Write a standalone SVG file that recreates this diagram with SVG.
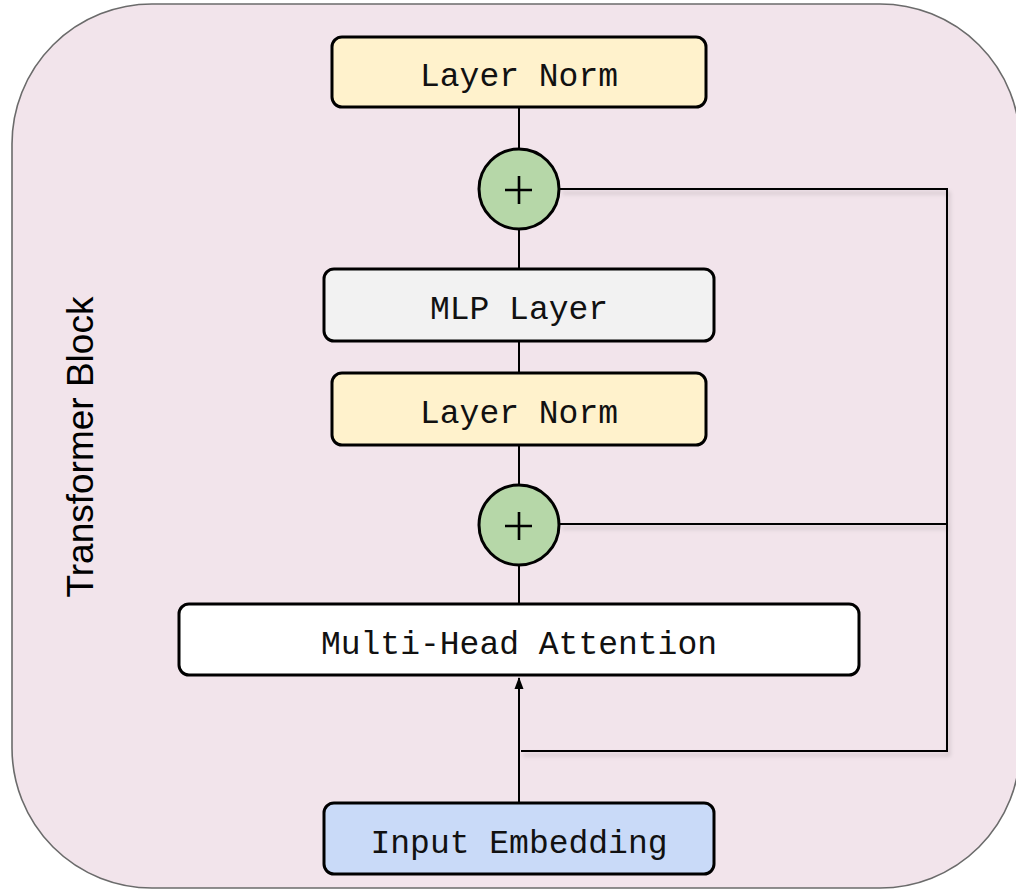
<svg xmlns="http://www.w3.org/2000/svg" width="1016" height="889" viewBox="0 0 1016 889">
  <defs>
    <style>
      .box { stroke: #000; stroke-width: 3; }
      .lbl { font-family: "Liberation Mono", "DejaVu Sans Mono", monospace; font-size: 33px; fill: #111; text-anchor: middle; }
      .conn { fill: none; stroke: #000; stroke-width: 2; }
      .plus { stroke: #000; stroke-width: 2.6; fill: none; }
    </style>
    <filter id="shadow" x="-10%" y="-10%" width="130%" height="130%">
      <feDropShadow dx="2" dy="4" stdDeviation="2" flood-color="#000" flood-opacity="0.18"/>
    </filter>
    <marker id="arrow" markerWidth="12" markerHeight="10" refX="11" refY="4.5" orient="auto" markerUnits="userSpaceOnUse" viewBox="0 0 12 9">
      <path d="M0,0 L12,4.5 L0,9 Z" fill="#000"/>
    </marker>
  </defs>

  <g id="container">
    <rect x="12" y="4" width="1008" height="884" rx="140" ry="140" fill="#f2e4eb" stroke="#6b6b6b" stroke-width="1.6"/>
    <text transform="translate(93,447) rotate(-90)" x="0" y="0" font-family="Liberation Sans, Arial, sans-serif" font-size="37" text-anchor="middle" fill="#000">Transformer Block</text>
  </g>

  <g id="connectors">
    <line class="conn" x1="519" y1="107" x2="519" y2="148"/>
    <line class="conn" x1="519" y1="230" x2="519" y2="269"/>
    <line class="conn" x1="519" y1="341" x2="519" y2="373"/>
    <line class="conn" x1="519" y1="445" x2="519" y2="484"/>
    <line class="conn" x1="519" y1="566" x2="519" y2="604"/>
    <g filter="url(#shadow)">
      <polyline class="conn" points="521,751 947,751 947,189 560,189"/>
      <line class="conn" x1="947" y1="524" x2="560" y2="524"/>
    </g>
    <line class="conn" x1="519" y1="803" x2="519" y2="678" marker-end="url(#arrow)"/>
  </g>

  <g id="layer-norm-top">
    <rect class="box" x="332" y="37" width="374" height="70" rx="10" fill="#fff2cc"/>
    <text class="lbl" x="519" y="86">Layer Norm</text>
  </g>

  <g id="add-top">
    <circle class="box" cx="519" cy="189" r="40" fill="#b6d7a8"/>
    <path class="plus" d="M505,190 H532 M519,176 V204"/>
  </g>

  <g id="mlp-layer">
    <rect class="box" x="324" y="269" width="390" height="72" rx="10" fill="#f2f2f2"/>
    <text class="lbl" x="519" y="319">MLP Layer</text>
  </g>

  <g id="layer-norm-bottom">
    <rect class="box" x="332" y="373" width="374" height="72" rx="10" fill="#fff2cc"/>
    <text class="lbl" x="519" y="423">Layer Norm</text>
  </g>

  <g id="add-bottom">
    <circle class="box" cx="519" cy="525" r="40" fill="#b6d7a8"/>
    <path class="plus" d="M505,526 H532 M519,512 V540"/>
  </g>

  <g id="multi-head-attention">
    <rect class="box" x="179" y="604" width="680" height="71" rx="10" fill="#ffffff"/>
    <text class="lbl" x="519" y="654">Multi-Head Attention</text>
  </g>

  <g id="input-embedding">
    <rect class="box" x="324" y="803" width="390" height="71" rx="10" fill="#c9daf8"/>
    <text class="lbl" x="519" y="853">Input Embedding</text>
  </g>
</svg>
